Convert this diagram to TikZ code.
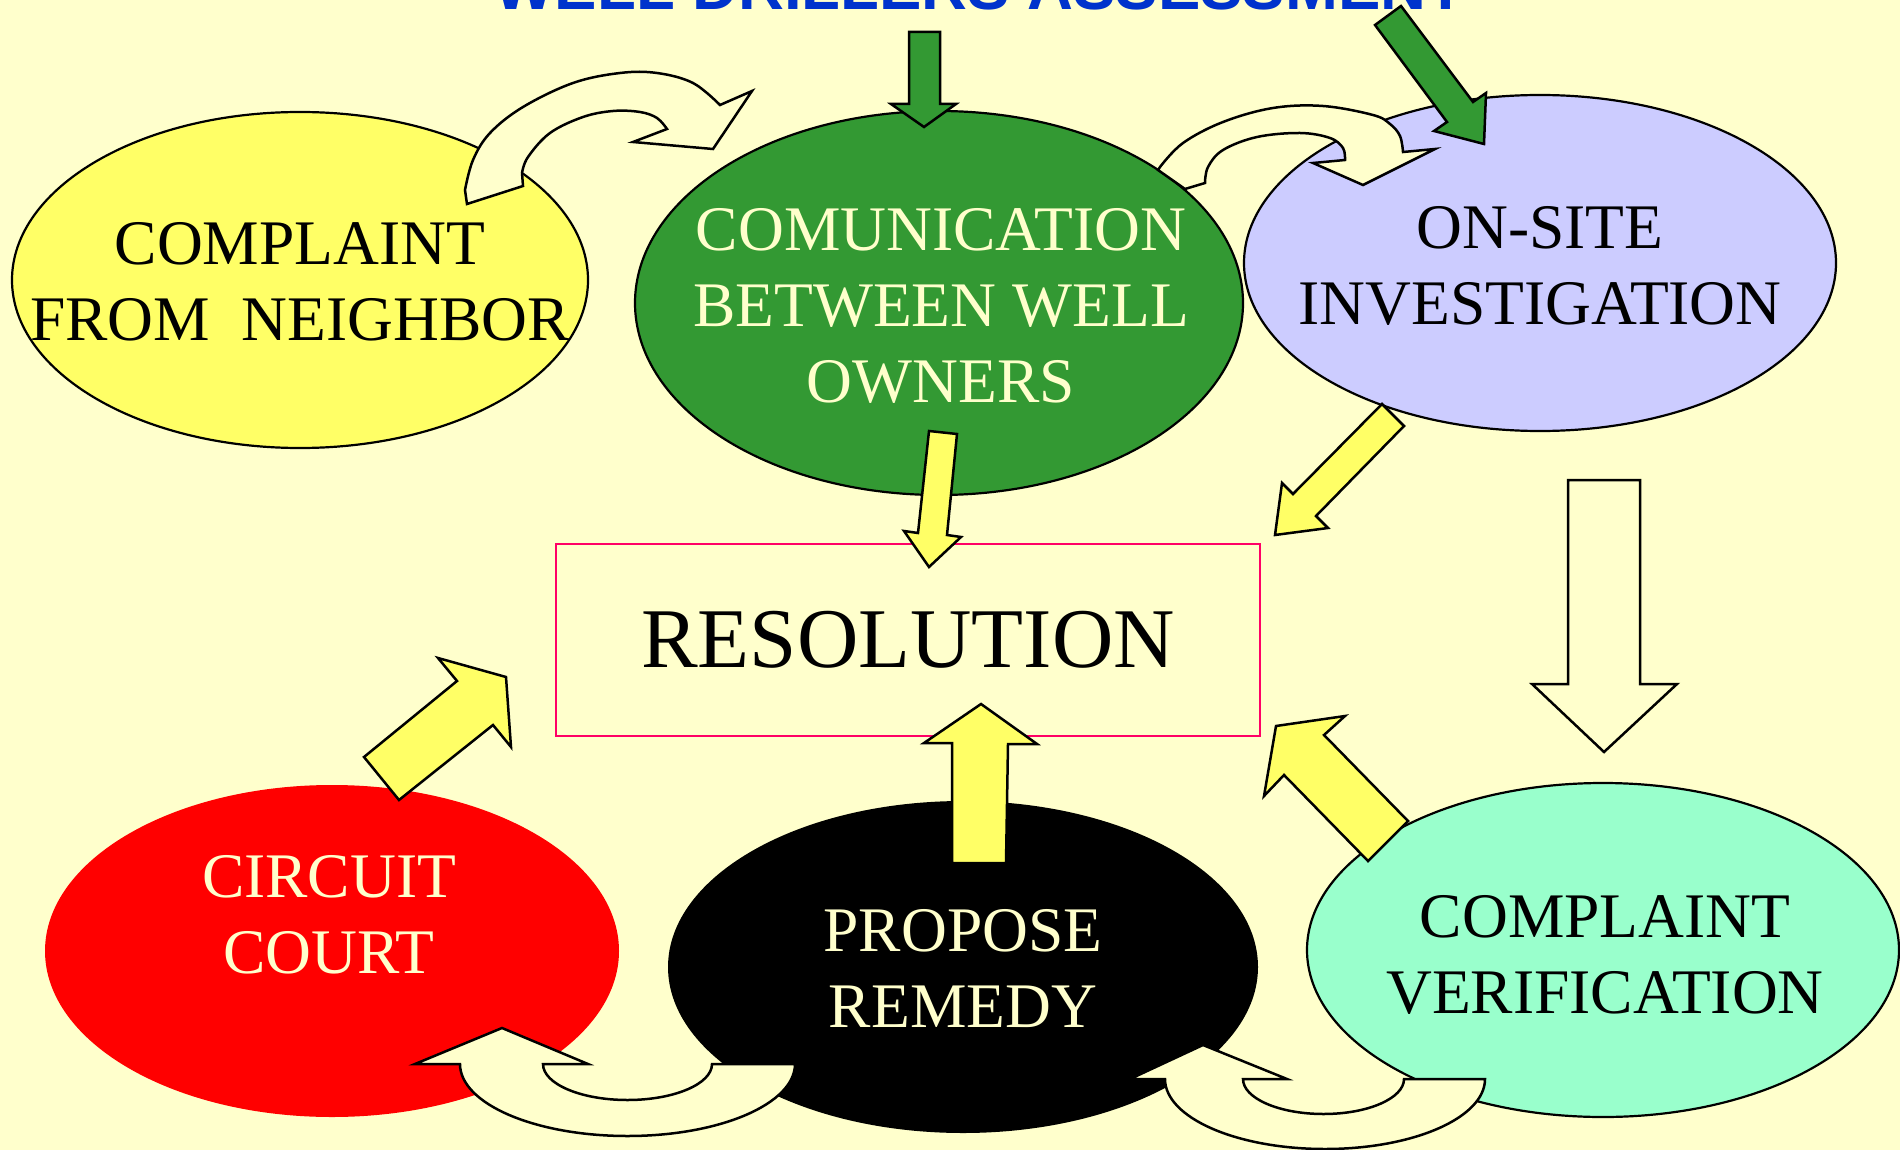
\documentclass[tikz,border=0pt]{standalone}
\usepackage{fontspec}
\setmainfont{Liberation Serif}
\newfontfamily\titlefont{Liberation Sans}
\usetikzlibrary{shapes.geometric}
\definecolor{bg}{HTML}{FFFFCC}
\definecolor{ylw}{HTML}{FFFF66}
\definecolor{grn}{HTML}{339933}
\definecolor{lav}{HTML}{CCCCFF}
\definecolor{mint}{HTML}{99FFCC}
\definecolor{pinkline}{HTML}{FF0066}
\definecolor{titleblue}{HTML}{0033CC}
\tikzset{
  bubble/.style={ellipse, draw=black, line width=2.2pt, inner sep=0pt},
  flatbubble/.style={ellipse, inner sep=0pt},
  bubbletext/.style={font=\fontsize{63.5}{76}\selectfont, align=center, inner sep=0pt},
  yarrow/.style={fill=ylw, draw=black, line width=2.5pt, line join=miter},
  garrow/.style={fill=grn, draw=black, line width=2.5pt, line join=miter},
  warrow/.style={fill=bg, draw=black, line width=2.5pt, line join=miter},
}
\begin{document}
\begin{tikzpicture}[x=1pt,y=-1pt]
\useasboundingbox (0,0) rectangle (1900,1150);
\clip (0,0) rectangle (1900,1150);
\fill[bg] (0,0) rectangle (1900,1150);

% title
\node[font=\titlefont\bfseries\fontsize{63.5}{70}\selectfont, text=titleblue, anchor=base, inner sep=0pt] (title) at (980,10) {WELL DRILLERS ASSESSMENT};

% ellipses
\node[bubble, fill=ylw, minimum width=576pt, minimum height=336pt] (neighbor) at (300,280) {};
\node[bubble, fill=grn, minimum width=608pt, minimum height=384pt] (comm) at (939,303) {};
\node[bubble, fill=lav, minimum width=592pt, minimum height=336pt] (onsite) at (1540,263) {};
\node[flatbubble, fill=red, minimum width=574pt, minimum height=332pt] (court) at (332,951) {};
\node[flatbubble, fill=black, minimum width=590pt, minimum height=332pt] (remedy) at (963,967) {};
\node[bubble, fill=mint, minimum width=592pt, minimum height=334pt] (verify) at (1603,950) {};

% texts
\node[bubbletext] (neighbortext) at (300,282) {COMPLAINT\\FROM\ \ NEIGHBOR};
\node[bubbletext, text=bg] (commtext) at (941,306) {COMUNICATION\\BETWEEN WELL\\OWNERS};
\node[bubbletext] (onsitetext) at (1540,266) {ON-SITE\\INVESTIGATION};
\node[bubbletext, text=bg] (courttext) at (329,915) {CIRCUIT\\COURT};
\node[bubbletext, text=bg] (remedytext) at (963,969) {PROPOSE\\REMEDY};
\node[bubbletext] (verifytext) at (1605,955) {COMPLAINT\\VERIFICATION};

% resolution box
\node[draw=pinkline, line width=2pt, minimum width=704pt, minimum height=192pt, inner sep=0pt,
      font=\fontsize{85}{90}\selectfont] (resolution) at (908,640) {RESOLUTION};

% green arrows
\draw[garrow] (909,32) -- (940,32) -- (940,104) -- (956,104) -- (924,127) -- (891,104) -- (909,104) -- cycle;
\draw[garrow] (1375,25) -- (1401,6) -- (1473,102) -- (1486,93) -- (1484,144) -- (1434,131) -- (1447,122) -- cycle;

% yellow arrows
\draw[yarrow] (929,431) -- (957,434) -- (947,535) -- (961,537) -- (929,567) -- (904,531) -- (918,533) -- cycle;
\draw[yarrow] (1382,404) -- (1404,426) -- (1316,516) -- (1328,528) -- (1275,535) -- (1282,483) -- (1293,494) -- cycle;
\draw[yarrow] (1408,821) -- (1324,735) -- (1345,716) -- (1276,726) -- (1264,796) -- (1284,775) -- (1368,861) -- cycle;
\draw[yarrow] (952,863) -- (952,743) -- (924,743) -- (981,704) -- (1037,744) -- (1008,744) -- (1006,863) -- cycle;
\draw[yarrow] (364,757) -- (457,681) -- (438,658) -- (506,677) -- (511,747) -- (493,725) -- (399,800) -- cycle;

% white straight arrow
\draw[warrow] (1568,480) -- (1640,480) -- (1640,684) -- (1677,684) -- (1604,752) -- (1532,684) -- (1568,684) -- cycle;

% curved arrow top left
\draw[warrow] (467,204) -- plot[smooth, tension=0.6] coordinates {(465,190) (473,160) (490,133) (523,107) (573,83) (620,73) (657,73) (693,83) (720,105)}
  -- (752,91) -- (713,149) -- (633,142)
  -- plot[smooth, tension=0.6] coordinates {(667,129) (657,118) (640,112) (613,111) (583,117) (550,133) (528,157) (522,173)}
  -- (523,186) -- cycle;

% curved arrow top right
\draw[warrow] (1158,170) -- plot[smooth, tension=0.6] coordinates {(1160,167) (1183,143) (1223,122) (1273,108) (1323,106) (1373,115) (1390,124) (1400,136) (1403,152)}
  -- (1435,149) -- (1363,185) -- (1313,163)
  -- plot[smooth, tension=0.6] coordinates {(1345,160) (1343,148) (1330,138) (1300,133) (1257,137) (1223,150) (1208,167) (1205,183)}
  -- (1185,189) -- cycle;

% curved arrow bottom left (into court)
\draw[warrow] (502,1028) -- (415,1064) -- (460,1064)
  .. controls (460,1103.8) and (535.0,1136) .. (627.5,1136)
  .. controls (720.0,1136) and (795,1103.8) .. (795,1064)
  -- (712,1064)
  .. controls (712,1083.9) and (674.2,1100) .. (627.5,1100)
  .. controls (580.8,1100) and (543,1083.9) .. (543,1064)
  -- (588,1064) -- cycle;

% curved arrow bottom right (into remedy)
\draw[warrow] (1203,1045) -- (1130,1079) -- (1165,1079)
  .. controls (1165,1117.7) and (1236.6,1149) .. (1325,1149)
  .. controls (1413.4,1149) and (1485,1117.7) .. (1485,1079)
  -- (1404,1079)
  .. controls (1404,1098.3) and (1368,1114) .. (1323.5,1114)
  .. controls (1279,1114) and (1243,1098.3) .. (1243,1079)
  -- (1287,1079) -- cycle;
\end{tikzpicture}
\end{document}
